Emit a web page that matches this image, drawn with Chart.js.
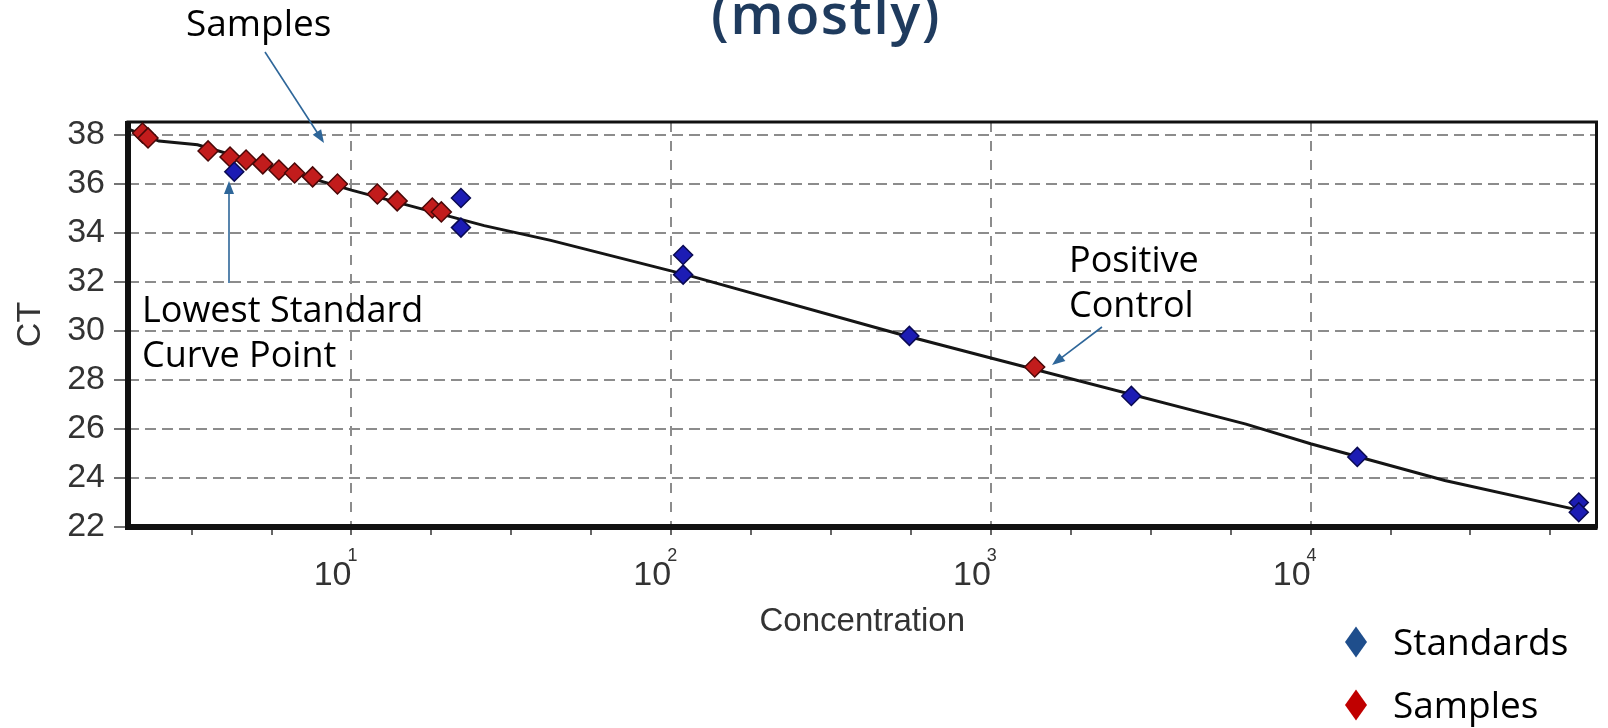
<!DOCTYPE html>
<html>
<head>
<meta charset="utf-8">
<script src="https://cdn.jsdelivr.net/npm/chart.js@4.4.1/dist/chart.umd.min.js"></script>
<style>
  html, body { margin: 0; padding: 0; background: #fff; }
  #wrap { width: 1608px; height: 728px; }
</style>
</head>
<body>
<div id="wrap"><canvas id="ctChart" width="1608" height="728"></canvas></div>
<script>
// Standard curve: concentration on a log axis, CT on y
const standardConc = [4.3, 22, 22, 109, 109, 556, 2750, 14000, 69000, 69000];
const standardCT = [36.5, 35.43, 34.22, 33.1, 32.3, 29.8, 27.35, 24.86, 23.0, 22.6];

const sampleConc = [2.22, 2.31, 3.56, 4.17, 4.68, 5.28, 5.93, 6.64, 7.56, 9.04, 12.05, 13.9, 17.9, 19.1, 1371];
const sampleCT = [38.08, 37.88, 37.35, 37.1, 36.98, 36.82, 36.57, 36.45, 36.29, 36.0, 35.59, 35.31, 35.02, 34.86, 28.53];

// fitted line
const fitConc = [2, 2.5, 3.3, 10, 26, 42, 111, 509, 1000, 6280, 10000, 26300, 68400];
const fitCT = [38.25, 37.75, 37.6, 35.75, 34.3, 33.7, 32.3, 29.9, 28.9, 26.2, 25.4, 23.9, 22.7];

// Axis ticks
const xTickExponents = [0.5, 0.75, 1, 1.25, 1.5, 1.75, 2, 2.25, 2.5, 2.75, 3, 3.25, 3.5, 3.75, 4, 4.25, 4.5, 4.75];
const xLabelExponents = [1, 2, 3, 4];
const yTickValues = [22, 24, 26, 28, 30, 32, 34, 36, 38];

const toPoints = (xs, ys) => xs.map((x, i) => ({ x: x, y: ys[i] }));
const isDecade = v => Math.abs(Math.log10(v) - Math.round(Math.log10(v))) < 1e-9;

// Frame around the plot (drawn under the markers)
const framePlugin = {
    id: 'frame',
    beforeDatasetsDraw(chart) {
        const { ctx, chartArea: a } = chart;
        ctx.save();
        ctx.strokeStyle = '#111';
        ctx.lineWidth = 3;
        ctx.strokeRect(a.left, a.top, a.right - a.left, a.bottom - a.top);
        ctx.lineWidth = 6;
        ctx.beginPath();
        ctx.moveTo(a.left, a.top - 1);
        ctx.lineTo(a.left, a.bottom);
        ctx.lineTo(a.right + 1, a.bottom);
        ctx.stroke();
        ctx.restore();
    }
};

function arrow(ctx, x1, y1, x2, y2) {
    const ang = Math.atan2(y2 - y1, x2 - x1);
    const len = 13, half = 5;
    ctx.beginPath();
    ctx.moveTo(x1, y1);
    ctx.lineTo(x2 - Math.cos(ang) * len * 0.8, y2 - Math.sin(ang) * len * 0.8);
    ctx.stroke();
    ctx.beginPath();
    ctx.moveTo(x2, y2);
    ctx.lineTo(x2 - Math.cos(ang) * len - Math.sin(ang) * half, y2 - Math.sin(ang) * len + Math.cos(ang) * half);
    ctx.lineTo(x2 - Math.cos(ang) * len + Math.sin(ang) * half, y2 - Math.sin(ang) * len - Math.cos(ang) * half);
    ctx.closePath();
    ctx.fill();
}

function diamond(ctx, cx, cy, w, h, color) {
    ctx.fillStyle = color;
    ctx.beginPath();
    ctx.moveTo(cx, cy - h / 2);
    ctx.lineTo(cx + w / 2, cy);
    ctx.lineTo(cx, cy + h / 2);
    ctx.lineTo(cx - w / 2, cy);
    ctx.closePath();
    ctx.fill();
}

// Exponents, title, callouts and legend
const overlayPlugin = {
    id: 'overlay',
    afterDraw(chart) {
        const { ctx } = chart;
        const xs = chart.scales.x;
        ctx.save();

        // superscript exponents for 10^n
        ctx.fillStyle = '#333';
        ctx.font = '18px "Liberation Sans", Arial, sans-serif';
        ctx.textAlign = 'center';
        ctx.textBaseline = 'top';
        xLabelExponents.forEach(e => {
            ctx.fillText(String(e), xs.getPixelForValue(Math.pow(10, e)) + 1, 547);
        });

        // slide title fragment
        ctx.fillStyle = '#1f3b5e';
        ctx.font = '600 56px "Open Sans", sans-serif';
        ctx.letterSpacing = '1.5px';
        ctx.textAlign = 'center';
        ctx.textBaseline = 'alphabetic';
        ctx.fillText('(mostly)', 826, 34);
        ctx.letterSpacing = '0px';

        // callouts
        ctx.fillStyle = '#000';
        ctx.textAlign = 'left';
        ctx.font = '37px "Open Sans", sans-serif';
        ctx.fillText('Samples', 186, 36);
        ctx.font = '36px "Open Sans", sans-serif';
        ctx.fillText('Lowest Standard', 142, 322);
        ctx.fillText('Curve Point', 142, 367);
        ctx.fillText('Positive', 1069, 272);
        ctx.fillText('Control', 1069, 317);

        ctx.strokeStyle = '#2e6699';
        ctx.fillStyle = '#2e6699';
        ctx.lineWidth = 1.6;
        arrow(ctx, 265, 52, 324, 143);
        arrow(ctx, 229, 283, 229, 181);
        arrow(ctx, 1102, 327, 1052, 365);

        // legend
        const ds = chart.data.datasets;
        diamond(ctx, 1356, 642, 22, 31, '#1f4e8c');
        diamond(ctx, 1356, 705, 22, 31, '#c00000');
        ctx.fillStyle = '#000';
        ctx.font = '37px "Open Sans", sans-serif';
        ctx.fillText(ds[0].label, 1393, 655);
        ctx.fillText(ds[1].label, 1393, 718);

        ctx.restore();
    }
};

new Chart(document.getElementById('ctChart'), {
    type: 'scatter',
    data: {
        datasets: [{
            label: 'Standards',
            data: toPoints(standardConc, standardCT),
            pointStyle: 'rectRot',
            pointRadius: 9.5,
            backgroundColor: '#1c1cb4',
            borderColor: '#0a0a52',
            borderWidth: 1.5,
            clip: false,
            order: 0
        }, {
            label: 'Samples',
            data: toPoints(sampleConc, sampleCT),
            pointStyle: 'rectRot',
            pointRadius: 10,
            backgroundColor: '#c21c1c',
            borderColor: '#4a0808',
            borderWidth: 1.5,
            clip: false,
            order: 1
        }, {
            label: 'Fit',
            type: 'line',
            data: toPoints(fitConc, fitCT),
            borderColor: '#151515',
            borderWidth: 3,
            pointRadius: 0,
            fill: false,
            tension: 0,
            order: 2
        }]
    },
    options: {
        responsive: false,
        animation: false,
        devicePixelRatio: 1,
        layout: { padding: { top: 122, right: 6, left: 0, bottom: 0 } },
        plugins: {
            legend: { display: false },
            tooltip: { enabled: false }
        },
        scales: {
            x: {
                type: 'logarithmic',
                min: 2,
                max: 78400,
                afterFit: s => { s.height = 201; },
                afterBuildTicks: s => { s.ticks = xTickExponents.map(e => ({ value: Math.pow(10, e) })); },
                border: { display: false, dash: [10, 9] },
                grid: {
                    color: ctx => (ctx.tick && isDecade(ctx.tick.value)) ? '#8c8c8c' : 'rgba(0,0,0,0)',
                    lineWidth: 2,
                    tickColor: '#333',
                    tickWidth: 1.5,
                    tickLength: 8
                },
                ticks: {
                    autoSkip: false,
                    maxRotation: 0,
                    align: 'end',
                    padding: 20,
                    color: '#333',
                    font: { family: '"Liberation Sans", Arial, sans-serif', size: 34 },
                    callback: v => isDecade(v) ? '10' : ''
                },
                title: {
                    display: true,
                    text: 'Concentration',
                    color: '#333',
                    font: { family: '"Liberation Sans", Arial, sans-serif', size: 33 },
                    padding: { top: 0, bottom: 86 }
                }
            },
            y: {
                min: 22,
                max: 38.53,
                afterFit: s => { s.width = 128; },
                afterBuildTicks: s => { s.ticks = yTickValues.map(v => ({ value: v })); },
                border: { display: false, dash: [11, 6] },
                grid: {
                    color: '#8c8c8c',
                    lineWidth: 2,
                    tickColor: '#444',
                    tickWidth: 1.5,
                    tickLength: 14
                },
                ticks: {
                    padding: 9,
                    color: '#333',
                    font: { family: '"Liberation Sans", Arial, sans-serif', size: 34 }
                },
                title: {
                    display: true,
                    text: 'CT',
                    color: '#333',
                    font: { family: '"Liberation Sans", Arial, sans-serif', size: 34 },
                    padding: { top: 10, bottom: 0 }
                }
            }
        }
    },
    plugins: [framePlugin, overlayPlugin]
});
</script>
</body>
</html>
